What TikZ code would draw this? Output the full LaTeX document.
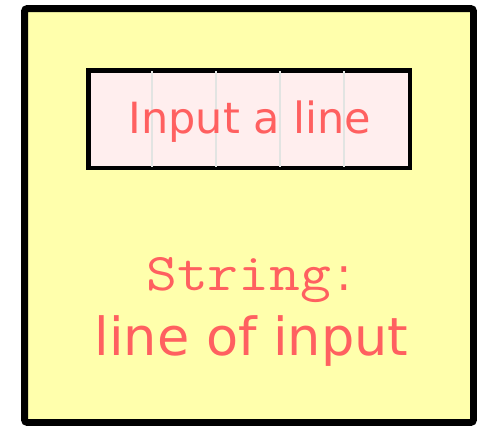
\documentclass[tikz,border=0pt]{standalone}
\usepackage{fontspec}
\setmainfont{DejaVu Sans}
\setmonofont[FakeStretch=1.13]{Latin Modern Mono}
\usetikzlibrary{positioning,calc}
\definecolor{boxyellow}{RGB}{255,255,172}
\definecolor{cellpink}{RGB}{255,238,238}
\definecolor{textred}{RGB}{255,96,96}
\definecolor{celledge}{RGB}{226,228,226}
\tikzset{
  framebox/.style={rectangle,rounded corners=3pt,draw=black,line width=7pt,fill=boxyellow,minimum width=449pt,minimum height=414pt,inner sep=0pt},
  linebox/.style={rectangle,draw=black,line width=3pt,fill=cellpink,minimum width=320pt,minimum height=96pt,inner sep=0pt},
  celldiv/.style={draw=celledge,line width=2pt},
  label/.style={text=textred,inner sep=0pt,anchor=base},
  bigfont/.style={font=\fontsize{43}{50}\selectfont}
}
\begin{document}
\begin{tikzpicture}[x=1pt,y=-1pt]
  \useasboundingbox (0,0) rectangle (477,426);
  \node[framebox] (frame) at (249,215.5) {};
  \node[linebox] (inbox) at (249,119) {};
  % five cells of the line buffer
  \foreach \i in {1,...,4} {
    \draw[celldiv] ($(inbox.north west)+(64*\i,1.5)$) -- ($(inbox.south west)+(64*\i,-1.5)$);
  }
  \draw[line width=3pt] (inbox.north west) rectangle (inbox.south east);
  \node[label,bigfont] (intext) at (250,133) {Input a line};
  \node[label,anchor=base west] (typename) at (146,290) {{\ttfamily\fontsize{53}{60}\selectfont String}\hspace{5pt}{\fontsize{46}{50}\selectfont:}};
  \node[label,font=\fontsize{52.5}{60}\selectfont] (value) at (251.5,355) {line of input};
\end{tikzpicture}
\end{document}
